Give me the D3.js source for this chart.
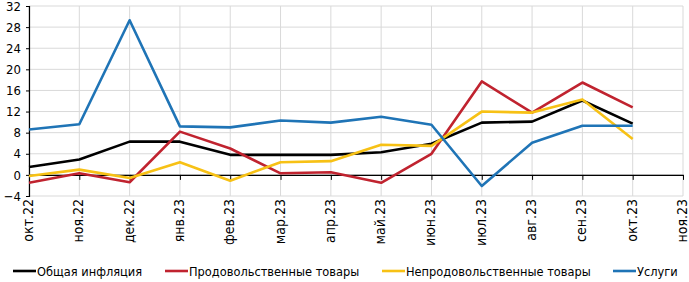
<!DOCTYPE html>
<html>
<head>
<meta charset="utf-8">
<script src="https://cdn.jsdelivr.net/npm/d3@7"></script>
<style>
  body { margin: 0; background: #fff; }
  text { font-family: "DejaVu Sans Condensed", "Noto Sans", sans-serif; }
</style>
</head>
<body>
<div id="graphic"></div>
<script>
// categories (months)
const months = ["окт.22", "ноя.22", "дек.22", "янв.23", "фев.23", "мар.23", "апр.23",
  "май.23", "июн.23", "июл.23", "авг.23", "сен.23", "окт.23", "ноя.23"];

// series values, % (no data for ноя.23)
const totalInfl = [1.5, 2.9, 6.3, 6.3, 3.8, 3.8, 3.8, 4.3, 5.9, 9.9, 10.1, 14.1, 9.7];
const foodGoods = [-1.5, 0.3, -1.4, 8.2, 5.0, 0.3, 0.5, -1.5, 4.0, 17.7, 11.8, 17.5, 12.8];
const nonFoodGoods = [-0.2, 1.0, -0.6, 2.4, -1.1, 2.4, 2.6, 5.7, 5.5, 12.0, 11.8, 14.3, 6.8];
const services = [8.6, 9.6, 29.3, 9.2, 9.0, 10.3, 9.9, 11.0, 9.5, -2.1, 6.1, 9.3, 9.3];

const yTicks = [-4, 0, 4, 8, 12, 16, 20, 24, 28, 32];

const seriesNames = ["Общая инфляция", "Продовольственные товары", "Непродовольственные товары", "Услуги"];
const seriesColors = ["#000000", "#c0232f", "#f7c115", "#1f74b6"];
const seriesData = [totalInfl, foodGoods, nonFoodGoods, services];

const graphicWidth = 689;
const graphicHeight = 282;
const margin = {top: 6, right: 6, bottom: 86, left: 29};
const plotWidth = graphicWidth - margin.left - margin.right;
const plotHeight = graphicHeight - margin.top - margin.bottom;

const svg = d3.select("#graphic")
    .append("svg")
    .attr("width", graphicWidth)
    .attr("height", graphicHeight);

const plot = svg.append("g")
    .attr("transform", "translate(" + margin.left + "," + margin.top + ")");

const x = d3.scalePoint()
    .domain(months)
    .range([0, plotWidth]);

const y = d3.scaleLinear()
    .domain([-4, 32])
    .range([plotHeight, 0]);

// horizontal gridlines
plot.append("g")
    .selectAll("line")
    .data(yTicks)
    .join("line")
    .attr("x1", 0)
    .attr("x2", plotWidth)
    .attr("y1", d => y(d))
    .attr("y2", d => y(d))
    .attr("stroke", "#d9d9d9")
    .attr("stroke-width", 1);

// vertical gridlines
plot.append("g")
    .selectAll("line")
    .data(months)
    .join("line")
    .attr("x1", d => x(d))
    .attr("x2", d => x(d))
    .attr("y1", 0)
    .attr("y2", plotHeight)
    .attr("stroke", "#d9d9d9")
    .attr("stroke-width", 1);

// y axis
const yAxis = plot.append("g")
    .call(d3.axisLeft(y).tickValues(yTicks).tickSize(3).tickPadding(5));
yAxis.select(".domain").attr("stroke", "#000").attr("stroke-width", 1.2);
yAxis.selectAll("text").attr("font-size", 13).attr("fill", "#000")
    .style("font-family", "'DejaVu Sans Condensed', sans-serif");

// x axis at zero
const xAxis = plot.append("g")
    .attr("transform", "translate(0," + y(0) + ")")
    .call(d3.axisBottom(x).tickSize(5).tickSizeOuter(0));
xAxis.select(".domain").attr("stroke", "#000").attr("stroke-width", 1.2);
xAxis.selectAll("text").remove();

// month labels below plot
plot.append("g")
    .selectAll("text")
    .data(months)
    .join("text")
    .attr("transform", d => "translate(" + (x(d) + 4) + "," + (plotHeight + 3) + ") rotate(-90)")
    .attr("text-anchor", "end")
    .attr("font-size", 14)
    .attr("fill", "#000")
    .text(d => d);

// series lines
const line = d3.line()
    .x((d, i) => x(months[i]))
    .y(d => y(d));

seriesData.forEach((vals, k) => {
  plot.append("path")
      .datum(vals)
      .attr("fill", "none")
      .attr("stroke", seriesColors[k])
      .attr("stroke-width", 2.6)
      .attr("stroke-linejoin", "round")
      .attr("d", line);
});

// legend
const legendX = [13, 165, 382, 613];
const legend = svg.append("g")
    .attr("transform", "translate(0,271)");
seriesNames.forEach((name, k) => {
  legend.append("line")
      .attr("x1", legendX[k])
      .attr("x2", legendX[k] + 23)
      .attr("y1", 0)
      .attr("y2", 0)
      .attr("stroke", seriesColors[k])
      .attr("stroke-width", 2.6);
  legend.append("text")
      .attr("x", legendX[k] + 24)
      .attr("y", 4.5)
      .attr("font-size", 12.7)
      .attr("fill", "#000")
      .text(name);
});
</script>
</body>
</html>
